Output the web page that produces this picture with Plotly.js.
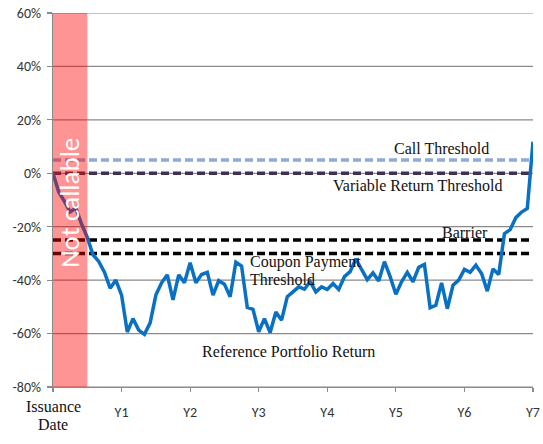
<!DOCTYPE html>
<html>
<head>
<meta charset="utf-8">
<script src="https://cdn.plot.ly/plotly-3.0.1.min.js"></script>
<style>
  html, body { margin: 0; padding: 0; background: #fff; }
  #chart { width: 543px; height: 444px; }
</style>
</head>
<body>
<div id="chart"></div>
<script>
// Reference portfolio return (%), one value per month from issuance (month 0) to year 7 (month 84)
const portfolioReturn = [
  0, -7, -10.5, -14.5, -13, -19, -24, -30.5, -33, -37,
  -43, -40, -45.6, -59.4, -54.4, -58.7, -60.3, -56, -45.6, -41,
  -38, -47.4, -38, -41, -33.5, -41, -37.9, -37.1, -45.6, -40.2,
  -41.5, -46.2, -33.3, -34.7, -50.2, -50.9, -59.3, -54.4, -59.6, -51.9,
  -55, -46.2, -44.4, -42.5, -43.4, -40.6, -44.4, -42.5, -43.5, -41.3,
  -43.5, -38.7, -36.8, -32, -36, -39.8, -37.3, -40.3, -33.1, -38.7,
  -45.3, -40.6, -37.1, -40.6, -35.2, -34.1, -50.3, -49.4, -41, -50.7,
  -41.9, -40, -36, -37.1, -34.4, -37.5, -44.1, -35.8, -37.9, -22.6,
  -21.1, -16.6, -14.5, -13.2, 11.8
];
const monthsPerYear = 12;

// Threshold levels (%)
const thresholdNames  = ["Call Threshold", "Variable Return Threshold", "Barrier", "Coupon Payment Threshold"];
const thresholdValues = [5, 0, -25, -30];
const thresholdColors = ["#8FAADC", "#3F3151", "#000000", "#000000"];

// Axis ticks
const yearTickValues = [0, 1, 2, 3, 4, 5, 6, 7];
const yearTickLabels = ["", "Y1", "Y2", "Y3", "Y4", "Y5", "Y6", "Y7"];
const yTickValues = [-80, -60, -40, -20, 0, 20, 40, 60];
const yTickLabels = ["-80%", "-60%", "-40%", "-20%", "0%", "20%", "40%", "60%"];

// Non-callable period (years)
const notCallableStart = 0;
const notCallableEnd = 0.5;

const xYears = portfolioReturn.map((_, i) => i / monthsPerYear);
const xStart = yearTickValues[0];
const xEnd = yearTickValues[yearTickValues.length - 1];

// horizontal gridlines as one line trace on the y scale
const gridX = [], gridY = [];
yTickValues.forEach(v => { gridX.push(xStart, xEnd, null); gridY.push(v, v, null); });
const traces = [{
  x: gridX, y: gridY, mode: "lines", name: "grid",
  line: { color: "#8A8A8A", width: 1.2 }, connectgaps: false, hoverinfo: "skip"
}];

thresholdValues.forEach((v, i) => traces.push({
  x: [xStart, xEnd], y: [v, v], mode: "lines", name: thresholdNames[i],
  line: { color: thresholdColors[i], width: 3.5, dash: "8px,4px" }, hoverinfo: "skip"
}));
traces.push({
  x: xYears, y: portfolioReturn, mode: "lines", name: "Reference Portfolio Return",
  line: { color: "#0A70C4", width: 3.5 }
});

const serif = { family: "Liberation Serif, Times New Roman, serif", size: 16, color: "#111" };
const sans = { family: "Carlito, Liberation Sans, Arial, sans-serif", size: 14, color: "#333" };

const layout = {
  width: 543, height: 444,
  margin: { l: 53, r: 10, t: 13, b: 57 },
  paper_bgcolor: "#fff", plot_bgcolor: "#fff",
  showlegend: false,
  xaxis: {
    range: [xStart, xEnd], tickmode: "array", tickvals: yearTickValues, ticktext: yearTickLabels,
    ticks: "outside", ticklen: 4, tickwidth: 1.2, tickcolor: "#8A8A8A",
    showgrid: false, zeroline: false, showline: true, linecolor: "#8A8A8A", linewidth: 1.2,
    ticklabelstandoff: 8, tickfont: sans
  },
  yaxis: {
    range: [-80, 60], tickmode: "array", tickvals: yTickValues, ticktext: yTickLabels,
    ticks: "outside", ticklen: 5, tickwidth: 1.2, tickcolor: "#8A8A8A",
    showgrid: false, zeroline: false, showline: true, linecolor: "#8A8A8A", linewidth: 1.2,
    ticklabelstandoff: 3, tickfont: sans
  },
  shapes: [{
    type: "rect", xref: "x", yref: "paper",
    x0: notCallableStart, x1: notCallableEnd, y0: 0, y1: 1,
    fillcolor: "rgba(255,0,0,0.42)", line: { width: 0 }, layer: "above"
  }],
  annotations: [
    { x: (notCallableStart + notCallableEnd) / 2, y: -11, xref: "x", yref: "y", text: "Not callable",
      textangle: -90, showarrow: false,
      font: { family: "Carlito, Liberation Sans, Arial, sans-serif", size: 27, color: "#fff" } },
    { x: 5.66, y: 9.1, xref: "x", yref: "y", text: thresholdNames[0], showarrow: false, font: serif },
    { x: 5.31, y: -4.4, xref: "x", yref: "y", text: thresholdNames[1], showarrow: false, font: serif },
    { x: 6.01, y: -22, xref: "x", yref: "y", text: thresholdNames[2], showarrow: false, font: serif },
    { x: 2.848, y: -33.1, xref: "x", yref: "y", text: "Coupon Payment", xanchor: "left", showarrow: false, font: serif },
    { x: 2.848, y: -39.7, xref: "x", yref: "y", text: "Threshold", xanchor: "left", showarrow: false, font: serif },
    { x: 3.44, y: -66.7, xref: "x", yref: "y", text: "Reference Portfolio Return", showarrow: false, font: serif },
    { x: 0, y: -0.08, xref: "x", yref: "paper", text: "Issuance", showarrow: false, font: serif },
    { x: 0, y: -0.128, xref: "x", yref: "paper", text: "Date", showarrow: false, font: serif }
  ]
};

Plotly.newPlot("chart", traces, layout, { displayModeBar: false, staticPlot: true });
</script>
</body>
</html>
